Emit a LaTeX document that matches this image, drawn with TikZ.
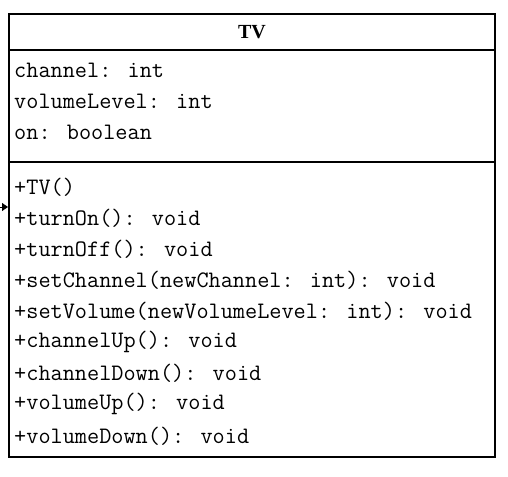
\documentclass[tikz,border=0pt]{standalone}
\usepackage{fontspec}
\setmainfont{Liberation Serif}
\usetikzlibrary{arrows.meta,positioning}

\begin{document}
\begin{tikzpicture}[
  x=1pt, y=-1pt,
  classbox/.style={draw, line width=2pt, minimum width=486pt, minimum height=443pt, inner sep=0pt},
  rule/.style={line width=2pt},
  title/.style={font=\fontsize{20}{24}\selectfont\bfseries},
  member/.style={anchor=west, inner sep=0pt, font=\ttfamily\fontsize{23.6}{28}\selectfont},
  arrow/.style={-{Triangle[length=6pt, width=8pt]}, line width=1pt}
]
  \useasboundingbox (0,0) rectangle (508,476);

  % Class box
  \node[classbox] (tv) at (252,235.5) {};
  \node[title] (name) at (252,32) {TV};
  \coordinate (sepA) at (9,50);
  \coordinate (sepB) at (9,162);
  \draw[rule] (tv.west |- sepA) -- (tv.east |- sepA);
  \draw[rule] (tv.west |- sepB) -- (tv.east |- sepB);

  % Attributes
  \node[member] (channel) at (14,70) {channel: int};
  \node[member] (volume) at (14,101) {volumeLevel: int};
  \node[member] (on) at (14,132) {on: boolean};

  % Operations
  \node[member] (ctor) at (14,187) {+TV()};
  \node[member] (turnon) at (14,218) {+turnOn(): void};
  \node[member] (turnoff) at (14,249) {+turnOff(): void};
  \node[member] (setch) at (14,280) {+setChannel(newChannel: int): void};
  \node[member] (setvol) at (14,311) {+setVolume(newVolumeLevel: int): void};
  \node[member] (chup) at (14,342) {+channelUp(): void};
  \node[member] (chdown) at (14,373) {+channelDown(): void};
  \node[member] (volup) at (14,404) {+volumeUp(): void};
  \node[member] (voldown) at (14,436) {+volumeDown(): void};

  % Incoming arrow (cut off at the edge)
  \coordinate (incoming) at (0,207);
  \draw[arrow] (incoming) -- (tv.west |- incoming);
\end{tikzpicture}
\end{document}
